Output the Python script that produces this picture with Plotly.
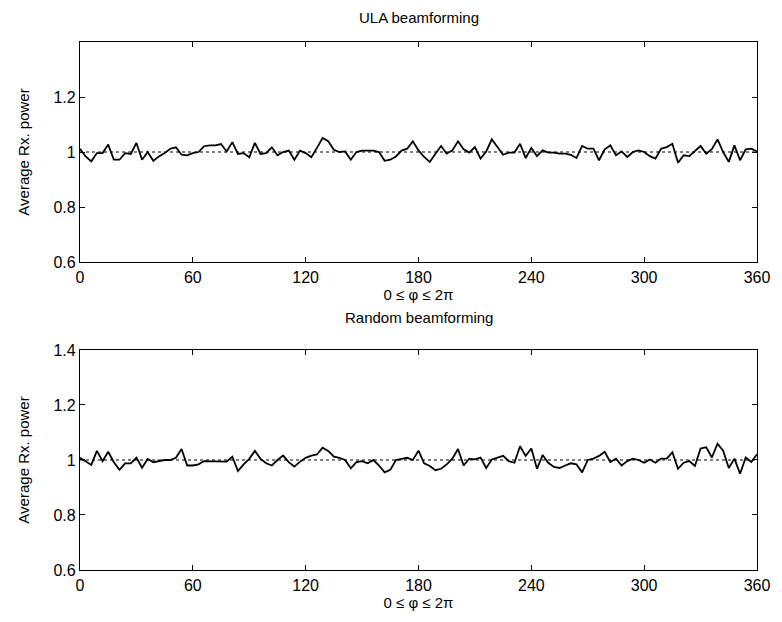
import plotly.graph_objects as go
from plotly.subplots import make_subplots

angles = [3 * k for k in range(121)]

ula_power = [
    1.012, 0.984, 0.966, 0.996, 0.996, 1.027, 0.972, 0.972, 0.996, 0.993,
    1.033, 0.972, 1.000, 0.968, 0.984, 0.996, 1.012, 1.017, 0.990, 0.988,
    0.996, 1.000, 1.021, 1.024, 1.024, 1.029, 1.002, 1.036, 0.993, 0.996,
    0.981, 1.033, 0.993, 0.996, 1.017, 0.988, 1.000, 1.005, 0.972, 1.005,
    0.996, 0.981, 1.015, 1.051, 1.039, 1.008, 1.000, 1.002, 0.972, 1.000,
    1.005, 1.005, 1.005, 1.000, 0.968, 0.972, 0.984, 1.005, 1.012, 1.039,
    1.006, 0.982, 0.964, 0.994, 1.022, 0.994, 1.006, 1.039, 1.010, 0.998,
    1.018, 0.976, 1.002, 1.046, 1.018, 0.990, 0.998, 0.998, 1.030, 0.978,
    1.015, 0.985, 1.006, 0.998, 0.998, 0.994, 0.994, 0.990, 0.978, 1.022,
    1.012, 1.012, 0.970, 1.010, 1.024, 0.988, 1.002, 0.982, 1.000, 1.006,
    1.000, 0.985, 0.976, 1.012, 1.018, 1.030, 0.961, 0.988, 0.985, 1.002,
    1.022, 0.994, 1.010, 1.046, 1.000, 0.964, 1.024, 0.970, 1.010, 1.012,
    1.002,
]

random_power = [
    1.008, 0.996, 0.982, 1.033, 0.996, 1.030, 0.992, 0.964, 0.988, 0.988,
    1.008, 0.972, 1.004, 0.992, 0.996, 1.000, 1.000, 1.008, 1.040, 0.980,
    0.980, 0.984, 0.996, 0.996, 0.996, 0.996, 0.994, 1.012, 0.960, 0.984,
    1.004, 1.033, 1.004, 0.988, 0.980, 1.000, 1.016, 0.992, 0.976, 0.994,
    1.008, 1.016, 1.020, 1.045, 1.033, 1.012, 1.008, 1.000, 0.970, 0.992,
    0.996, 0.988, 1.000, 0.980, 0.955, 0.964, 1.000, 1.004, 1.008, 1.000,
    1.034, 0.988, 0.978, 0.963, 0.968, 0.984, 1.005, 1.040, 0.980, 1.005,
    1.002, 1.009, 0.971, 1.002, 1.009, 1.015, 0.996, 0.990, 1.050, 1.015,
    1.042, 0.968, 1.018, 0.990, 0.975, 0.971, 0.980, 0.988, 0.984, 0.955,
    1.000, 1.005, 1.015, 1.030, 0.993, 1.005, 0.980, 0.996, 1.005, 1.000,
    0.990, 1.002, 0.990, 1.005, 1.005, 1.028, 0.968, 0.990, 0.996, 0.978,
    1.042, 1.046, 1.009, 1.059, 1.034, 0.971, 1.005, 0.950, 1.009, 0.993,
    1.021,
]

reference_level = [1.0, 1.0]
reference_x = [0, 360]

titles = ["ULA beamforming", "Random beamforming"]
x_ticks = [0, 60, 120, 180, 240, 300, 360]
y_ticks = [0.6, 0.8, 1.0, 1.2, 1.4]
y_ticktext_top = ["0.6", "0.8", "1", "1.2", ""]
y_ticktext_bottom = ["0.6", "0.8", "1", "1.2", "1.4"]

FAMILY = "Liberation Sans, Arial, sans-serif"

fig = make_subplots(rows=2, cols=1)

for row, series in ((1, ula_power), (2, random_power)):
    fig.add_trace(go.Scatter(x=reference_x, y=reference_level, mode="lines",
                             line=dict(color="black", width=1, dash="dot"),
                             showlegend=False), row=row, col=1)
    fig.add_trace(go.Scatter(x=angles, y=series, mode="lines",
                             line=dict(color="black", width=1.8),
                             showlegend=False), row=row, col=1)

tickfont = dict(family=FAMILY, size=16, color="black")
axis_common = dict(showline=True, linecolor="black", linewidth=1.2, mirror="ticks",
                   ticks="inside", ticklen=5, tickcolor="black", showgrid=False,
                   zeroline=False, tickfont=tickfont)

fig.update_layout(
    width=782, height=622,
    margin=dict(l=80, r=20, t=42, b=52),
    plot_bgcolor="white", paper_bgcolor="white",
    showlegend=False,
    font=dict(family=FAMILY, size=15, color="black"),
    xaxis=dict(domain=[0, 1], range=[0, 360], tickvals=x_ticks, **axis_common),
    xaxis2=dict(domain=[0, 1], range=[0, 360], tickvals=x_ticks, **axis_common),
    yaxis=dict(domain=[0.5833, 1], range=[0.6, 1.4], tickvals=y_ticks,
               ticktext=y_ticktext_top, **axis_common),
    yaxis2=dict(domain=[0, 0.4167], range=[0.6, 1.4], tickvals=y_ticks,
                ticktext=y_ticktext_bottom, **axis_common),
)
fig.update_xaxes(title=dict(text="0 ≤ φ ≤ 2π", font=dict(size=15, family=FAMILY), standoff=0),
                 ticklabelstandoff=1)
fig.update_yaxes(title=dict(text="Average Rx. power", font=dict(size=15, family=FAMILY), standoff=20))

fig.add_annotation(text=titles[0], x=0.5, xref="paper", y=1.0, yref="paper",
                   yshift=25, yanchor="middle", showarrow=False,
                   font=dict(size=15, family=FAMILY))
fig.add_annotation(text=titles[1], x=0.5, xref="paper", y=0.4167, yref="paper",
                   yshift=32, yanchor="middle", showarrow=False,
                   font=dict(size=15, family=FAMILY))

fig.write_html("out.html")
